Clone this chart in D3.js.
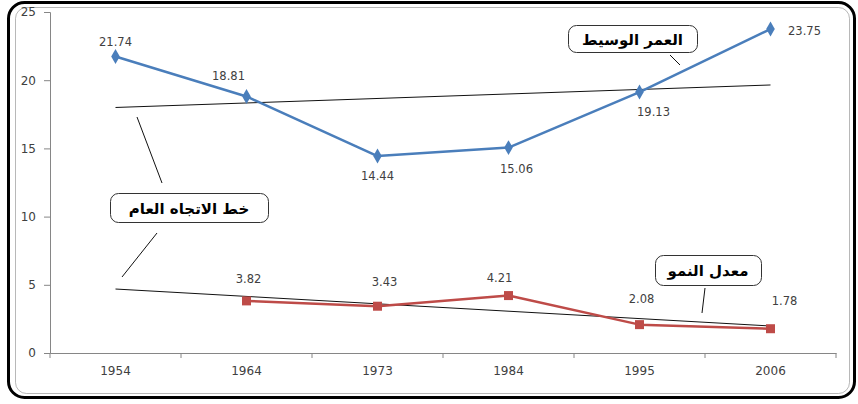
<!DOCTYPE html>
<html>
<head>
<meta charset="utf-8">
<script src="https://cdn.jsdelivr.net/npm/d3@7"></script>
<style>
  html, body { margin: 0; padding: 0; background: #fff; }
  svg { display: block; }
</style>
</head>
<body>
<svg id="chart" width="858" height="404"></svg>
<script>
// ---- data ----
const years = ["1954", "1964", "1973", "1984", "1995", "2006"];
const medianAge = [21.74, 18.81, 14.44, 15.06, 19.13, 23.75];
const growthRate = [null, 3.82, 3.43, 4.21, 2.08, 1.78];
const medianAgeTrend = [18.0, 19.65];   // trend line at 1954 and 2006
const growthTrend = [4.69, 1.98];       // trend line at 1954 and 2006
const yTicks = [0, 5, 10, 15, 20, 25];
const calloutAge = "العمر الوسيط";
const calloutTrend = "خط الاتجاه العام";
const calloutGrowth = "معدل النمو";

// ---- label offsets (layout) ----
const ageLabelDx = [0, -18, 0, 8, 14, 34];
const ageLabelDy = [-14, -20, 20, 21, 20, 2];
const growthLabelDx = [0, 2, 7, -9, 2, 14];
const growthLabelDy = [0, -22, -24, -18, -26, -28];

const svg = d3.select("#chart");
const numFont = "DejaVu Sans, Verdana, sans-serif";

// outer frame
svg.append("rect").attr("x", 8.5).attr("y", 2.5).attr("width", 846).attr("height", 395)
  .attr("rx", 16).attr("fill", "none").attr("stroke", "#000").attr("stroke-width", 3);
svg.append("rect").attr("x", 15.5).attr("y", 7.5).attr("width", 834).attr("height", 386)
  .attr("rx", 11).attr("fill", "none").attr("stroke", "#888").attr("stroke-width", 1).attr("opacity", 0.6);

const x = d3.scaleBand().domain(years).range([50, 836]).padding(0);
const y = d3.scaleLinear().domain([0, 25]).range([353, 12]);
const cx = d => x(d) + x.bandwidth() / 2;

// axes
const axisColor = "#868686";
const yAxis = svg.append("g").attr("transform", "translate(50,0)")
  .call(d3.axisLeft(y).tickValues(yTicks).tickSize(6).tickPadding(8).tickFormat(d3.format("d")));
const xAxis = svg.append("g").attr("transform", "translate(0,353)")
  .call(d3.axisBottom(x).tickSize(0).tickPadding(13));
[yAxis, xAxis].forEach(g => {
  g.selectAll("path.domain").attr("stroke", axisColor).attr("stroke-width", 1);
  g.selectAll("line").attr("stroke", axisColor);
  g.selectAll("text").attr("fill", "#404040").style("font-family", numFont).style("font-size", "12px");
});
// x ticks at band boundaries
xAxis.selectAll("line.bt").data(years.concat(["end"])).enter().append("line")
  .attr("x1", (d, i) => 50 + i * x.bandwidth()).attr("x2", (d, i) => 50 + i * x.bandwidth())
  .attr("y1", 0).attr("y2", 5).attr("stroke", axisColor);

// trend lines
const trendX = [cx(years[0]), cx(years[years.length - 1])];
[medianAgeTrend, growthTrend].forEach(t => {
  svg.append("line").attr("x1", trendX[0]).attr("y1", y(t[0]))
    .attr("x2", trendX[1]).attr("y2", y(t[1]))
    .attr("stroke", "#111").attr("stroke-width", 1);
});

// series lines
const blue = "#4a7ebb", red = "#be4b48";
const line = d3.line().defined(d => d.v != null).x(d => cx(d.k)).y(d => y(d.v));
const ageData = years.map((k, i) => ({ k, v: medianAge[i] }));
const growthData = years.map((k, i) => ({ k, v: growthRate[i] }));

svg.append("path").datum(ageData).attr("d", line).attr("fill", "none")
  .attr("stroke", blue).attr("stroke-width", 2.5).attr("stroke-linejoin", "round");
svg.append("path").datum(growthData).attr("d", line).attr("fill", "none")
  .attr("stroke", red).attr("stroke-width", 2.5).attr("stroke-linejoin", "round");

// markers
svg.selectAll("path.dm").data(ageData).enter().append("path")
  .attr("d", d3.symbol().type(d3.symbolDiamond).size(64))
  .attr("transform", d => `translate(${cx(d.k)},${y(d.v)})`)
  .attr("fill", blue);
svg.selectAll("rect.sq").data(growthData.filter(d => d.v != null)).enter().append("rect")
  .attr("x", d => cx(d.k) - 4.5).attr("y", d => y(d.v) - 4.5)
  .attr("width", 9).attr("height", 9).attr("fill", red);

// data labels
svg.selectAll("text.al").data(ageData).enter().append("text")
  .attr("x", (d, i) => cx(d.k) + ageLabelDx[i])
  .attr("y", (d, i) => y(d.v) + ageLabelDy[i])
  .attr("text-anchor", "middle").attr("dominant-baseline", "central")
  .style("font-family", numFont).style("font-size", "11.5px")
  .attr("fill", "#404040").text(d => d.v.toFixed(2));
svg.selectAll("text.gl").data(growthData.map((d, i) => ({ ...d, i })).filter(d => d.v != null)).enter().append("text")
  .attr("x", d => cx(d.k) + growthLabelDx[d.i])
  .attr("y", d => y(d.v) + growthLabelDy[d.i])
  .attr("text-anchor", "middle").attr("dominant-baseline", "central")
  .style("font-family", numFont).style("font-size", "11.5px")
  .attr("fill", "#404040").text(d => d.v.toFixed(2));

// callouts
function callout(txt, bx, by, bw, bh, pointers) {
  const g = svg.append("g");
  g.append("rect").attr("x", bx + 0.5).attr("y", by + 0.5).attr("width", bw).attr("height", bh)
    .attr("rx", 8).attr("fill", "#fff").attr("stroke", "#333").attr("stroke-width", 1);
  g.append("text").attr("x", bx + bw / 2).attr("y", by + bh / 2 + 1)
    .attr("text-anchor", "middle").attr("dominant-baseline", "central")
    .attr("direction", "rtl")
    .style("font-family", "DejaVu Sans, sans-serif").style("font-weight", "bold").style("font-size", "15px")
    .attr("fill", "#000").text(txt);
  pointers.forEach(p => {
    svg.append("line").attr("x1", p[0]).attr("y1", p[1]).attr("x2", p[2]).attr("y2", p[3])
      .attr("stroke", "#111").attr("stroke-width", 1);
  });
}
callout(calloutAge, 568, 25, 129, 27, [[670, 55, 680, 65]]);
callout(calloutTrend, 110, 193, 158, 29, [[137, 117, 162, 183], [157, 233, 122, 277]]);
callout(calloutGrowth, 655, 255, 106, 30, [[705, 288, 702, 313]]);
</script>
</body>
</html>
